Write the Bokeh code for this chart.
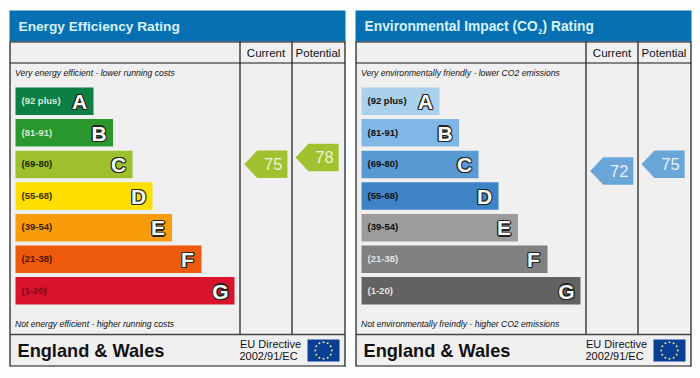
from math import cos, sin, pi
from bokeh.plotting import figure
from bokeh.models import Range1d
from bokeh.core.properties import value
from bokeh.embed import file_html
from bokeh.resources import INLINE

letters = ["A", "B", "C", "D", "E", "F", "G"]
bands = ["(92 plus)", "(81-91)", "(69-80)", "(55-68)", "(39-54)", "(21-38)", "(1-20)"]
bar_lengths = [78, 97.5, 117, 137, 156.5, 186, 219]
energy_colors = ["#0c7f45", "#2a962e", "#9cc12c", "#ffdf00", "#f99c0c", "#ee5a0c", "#d8132b"]
energy_label_colors = ["#d6ecd8", "#d6ecd8", "#1c2400", "#3a3000", "#3a2000", "#4a1500", "#7a0a1c"]
env_colors = ["#a9d0ec", "#80b7e6", "#5a9ad3", "#3d83c6", "#9c9c9c", "#808080", "#626262"]
env_label_colors = ["#111111", "#111111", "#111111", "#111111", "#111111", "#e4e4e4", "#e4e4e4"]
energy_current, energy_potential = 75, 78
env_current, env_potential = 72, 75
arrow_color_energy = "#a0c22f"
arrow_color_env = "#6aa5d8"

FONT = value("Liberation Sans")
p = figure(width=700, height=378, output_backend="svg", toolbar_location=None,
           x_range=Range1d(0, 700), y_range=Range1d(378, 0), min_border=0,
           background_fill_color="#fdfefe", border_fill_color="#fdfefe", outline_line_color=None)
p.axis.visible = False
p.grid.visible = False


def txt(x, y, s, size, color="#111111", style="normal", align="left", baseline="middle"):
    p.text([x], [y], text=[s], text_font=FONT, text_font_size=f"{size}px", text_color=color,
           text_font_style=style, text_align=align, text_baseline=baseline)


def panel(ox, title, top_note, bottom_note, colors, label_colors, cur, pot, arrow_color):
    L, R, T, B = 9.5 + ox, 344.5 + ox, 10, 366
    p.quad(left=[L], right=[R], top=[T], bottom=[B], fill_color="#f0f0f1", line_color=None)
    p.quad(left=[L - .5], right=[R + .5], top=[T], bottom=[41], fill_color="#0670b2", line_color=None)
    # frame
    p.multi_line([[L, R], [L, L], [R, R], [L, R], [L, R], [239.5 + ox, 239.5 + ox], [291.5 + ox, 291.5 + ox]],
                 [[365.5, 365.5], [41, 366], [41, 366], [41.5, 41.5], [62.5, 62.5], [41, 334], [41, 334]],
                 line_color="#151515", line_width=1.2)
    p.line([L, R], [334, 334], line_color="#444444", line_width=1.4)
    txt(239.5 + ox + 26, 52, "Current", 11.5, align="center")
    txt(291.5 + ox + 26, 52, "Potential", 11.5, align="center")
    if isinstance(title, str):
        txt(18 + ox, 26, title, 13.7, "#d9f1ff", "bold")
    else:
        txt(18 + ox, 26, title[0], 13.8, "#d9f1ff", "bold")
        txt(191.5 + ox, 31, title[1], 8, "#d9f1ff", "bold")
        txt(196 + ox, 26, title[2], 13.8, "#d9f1ff", "bold")
    txt(14.5 + ox, 72, top_note, 8.6, style="italic")
    txt(14.5 + ox, 323, bottom_note, 8.6, style="italic")
    for i, (letter, band, length, color, lc) in enumerate(zip(letters, bands, bar_lengths, colors, label_colors)):
        top = 87 + 31.6 * i
        right = 15 + ox + length
        p.quad(left=[15 + ox], right=[right], top=[top], bottom=[top + 27.5], fill_color=color, line_color=None)
        txt(21 + ox, top + 13, band, 9.5, lc, "bold")
        cx, cy = right - 14, top + 14
        for dx, dy in [(-1.2, 0), (1.2, 0), (0, -1.2), (0, 1.2), (-.9, -.9), (.9, -.9), (-.9, .9), (.9, .9)]:
            txt(cx + dx, cy + dy, letter, 21, "#232323", "bold", "center")
        txt(cx, cy, letter, 21, "#fbfbf6", "bold", "center")
    for v, x0 in ((cur, 243.7), (pot, 295)):
        y = 163.7 - (v - 75) * 2.25
        xs = [x0 + ox, x0 + 13 + ox, x0 + 43.2 + ox, x0 + 43.2 + ox, x0 + 13 + ox]
        ys = [y, y - 13.8, y - 13.8, y + 13.8, y + 13.8]
        p.patch(xs, ys, fill_color=arrow_color, line_color=None)
        txt(x0 + 29 + ox, y, str(v), 16.5, "#eef3de" if arrow_color == arrow_color_energy else "#e8f1fa",
            "normal", "center")
    # footer
    txt(17 + ox, 350.5, "England & Wales", 18.2, "#111111", "bold")
    txt(239.5 + ox, 343.5, "EU Directive", 11)
    txt(239 + ox, 355.5, "2002/91/EC", 11)
    p.quad(left=[307 + ox], right=[339 + ox], top=[339], bottom=[361], fill_color="#0a3f96", line_color=None)
    sx = [323 + ox + 8.3 * cos(k * pi / 6) for k in range(12)]
    sy = [350 + 8.3 * sin(k * pi / 6) for k in range(12)]
    p.scatter(sx, sy, marker="circle", size=2, fill_color="#f4e36a", line_color=None)


panel(0, "Energy Efficiency Rating", "Very energy efficient - lower running costs",
      "Not energy efficient - higher running costs", energy_colors, energy_label_colors,
      energy_current, energy_potential, arrow_color_energy)
panel(346, ("Environmental Impact (CO", "2", ") Rating"), "Very environmentally friendly - lower CO2 emissions",
      "Not environmentally freindly - higher CO2 emissions", env_colors, env_label_colors,
      env_current, env_potential, arrow_color_env)

open("out.html", "w").write(file_html(p, INLINE))
